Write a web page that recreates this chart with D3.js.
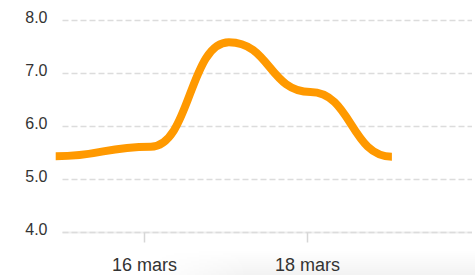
<!DOCTYPE html>
<html>
<head>
    <meta charset="utf-8">
    <script src="https://unpkg.com/d3@7/dist/d3.min.js"></script>
    <style>
        body { margin: 0; background: #fff; }
        svg { display: block; font-family: Arial, "Liberation Sans", sans-serif; }
    </style>
</head>
<body>
    <svg width="475" height="275"></svg>
    <script>
        // data
        const times = ['2024-03-14T22:00', '2024-03-16T02:00', '2024-03-17T01:00', '2024-03-18T01:00', '2024-03-19T01:00'];
        const values = [5.44, 5.62, 7.59, 6.65, 5.43];
        const yTicks = [4, 5, 6, 7, 8];
        const xTickDates = ['2024-03-16', '2024-03-18'];
        const xTickLabels = ['16 mars', '18 mars'];

        const parse = d3.timeParse('%Y-%m-%dT%H:%M');
        const parseDay = d3.timeParse('%Y-%m-%d');
        const data = times.map((t, i) => ({ date: parse(t), value: values[i] }));

        const svg = d3.select('svg');
        const plotLeft = 62.5, plotRight = 470, plotTop = 20.5, plotBottom = 232.5;

        const x = d3.scaleTime()
            .domain([parseDay('2024-03-15'), parseDay('2024-03-20')])
            .range([plotLeft, plotRight]);
        const y = d3.scaleLinear().domain([4, 8]).range([plotBottom, plotTop]);

        // faint card shadow at the bottom
        const defs = svg.append('defs');
        const gv = defs.append('linearGradient').attr('id', 'shv').attr('x1', 0).attr('y1', 0).attr('x2', 0).attr('y2', 1);
        gv.append('stop').attr('offset', 0).attr('stop-color', '#000').attr('stop-opacity', 0);
        gv.append('stop').attr('offset', 1).attr('stop-color', '#000').attr('stop-opacity', 0.05);
        const gh = defs.append('linearGradient').attr('id', 'shh');
        gh.append('stop').attr('offset', 0).attr('stop-color', '#fff').attr('stop-opacity', 0);
        gh.append('stop').attr('offset', 0.3).attr('stop-color', '#fff').attr('stop-opacity', 1);
        const mask = defs.append('mask').attr('id', 'shm');
        mask.append('rect').attr('x', 150).attr('y', 250).attr('width', 325).attr('height', 25).attr('fill', 'url(#shh)');
        svg.append('rect')
            .attr('x', 150).attr('y', 250).attr('width', 325).attr('height', 25)
            .attr('fill', 'url(#shv)').attr('mask', 'url(#shm)');

        // baseline + grid
        svg.append('line')
            .attr('x1', plotLeft).attr('x2', 472)
            .attr('y1', plotBottom).attr('y2', plotBottom)
            .attr('stroke', '#efefef').attr('stroke-width', 2);

        svg.append('g').selectAll('line')
            .data(yTicks)
            .join('line')
            .attr('x1', plotLeft).attr('x2', 472)
            .attr('y1', d => y(d)).attr('y2', d => y(d))
            .attr('stroke', '#dcdcdc')
            .attr('stroke-width', 1.5)
            .attr('stroke-dasharray', '6,3');

        // y axis labels
        const yAxis = svg.append('g')
            .attr('transform', `translate(${plotLeft},0)`)
            .call(d3.axisLeft(y).tickValues(yTicks).tickFormat(d3.format('.1f')).tickSize(0).tickPadding(15));
        yAxis.select('.domain').remove();
        yAxis.selectAll('text')
            .attr('dy', '0.14em')
            .attr('font-size', 16)
            .attr('font-family', 'Arial, "Liberation Sans", sans-serif')
            .attr('fill', '#333');

        // x axis
        const xAxis = svg.append('g')
            .attr('transform', `translate(0,${plotBottom})`)
            .call(d3.axisBottom(x)
                .tickValues(xTickDates.map(parseDay))
                .tickFormat((d, i) => xTickLabels[i])
                .tickSize(10)
                .tickPadding(15.4));
        xAxis.select('.domain').remove();
        xAxis.selectAll('line').attr('stroke', '#d6d6d6').attr('stroke-width', 1.5);
        xAxis.selectAll('text')
            .attr('font-size', 18)
            .attr('font-family', 'Arial, "Liberation Sans", sans-serif')
            .attr('fill', '#333');

        // line
        const line = d3.line()
            .x(d => x(d.date))
            .y(d => y(d.value))
            .curve(d3.curveBumpX);

        svg.append('path')
            .datum(data)
            .attr('d', line)
            .attr('fill', 'none')
            .attr('stroke', '#ff9900')
            .attr('stroke-width', 8)
            .attr('stroke-linejoin', 'round');
    </script>
</body>
</html>
